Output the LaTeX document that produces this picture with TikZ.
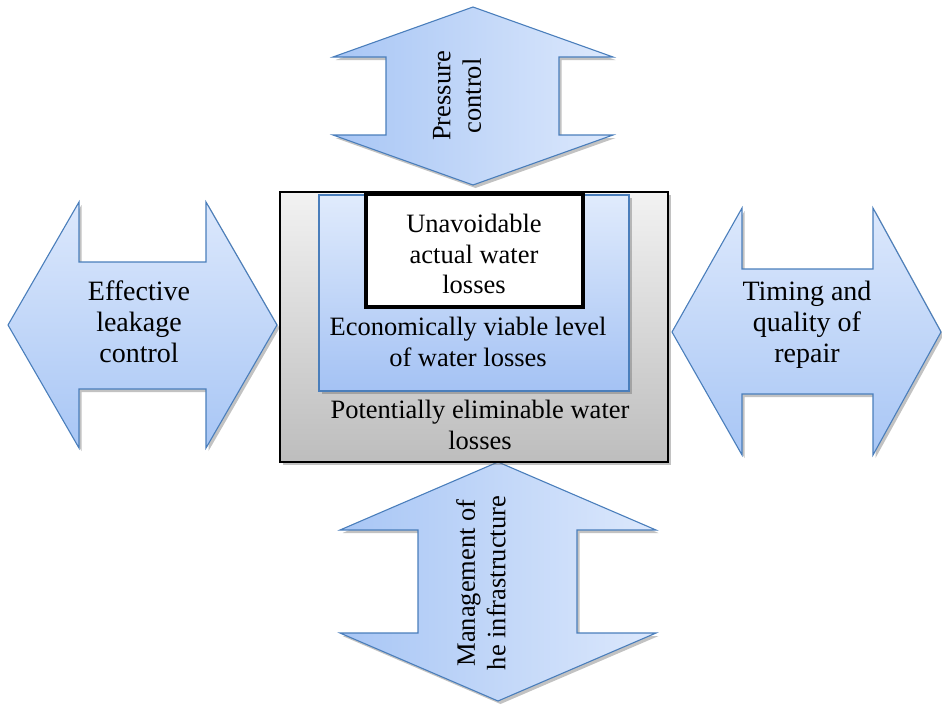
\documentclass[tikz,border=0pt]{standalone}
\usepackage{fontspec}
\setmainfont{Liberation Serif}
\definecolor{arrlight}{HTML}{DCE8FC}
\definecolor{arrdark}{HTML}{A8C6F5}
\definecolor{arrline}{HTML}{4A7EBB}
\definecolor{greylight}{HTML}{F2F2F2}
\definecolor{greydark}{HTML}{BDBDBD}
\definecolor{bluelight}{HTML}{E0EBFC}
\definecolor{bluedark}{HTML}{A4C2F4}
\tikzset{
  shapeshadow/.style={preaction={fill=black!60, opacity=0.4, transform canvas={shift={(2.5pt,-3pt)}}}},
  arrshape/.style={shapeshadow, draw=arrline, line width=1.1pt, line join=miter},
  lbl/.style={font=\fontsize{26.5}{30.5}\selectfont, align=center, inner sep=0pt},
  sidelbl/.style={font=\fontsize{28}{31}\selectfont, align=center, inner sep=0pt},
}
\begin{document}
\begin{tikzpicture}[x=1pt,y=-1pt]
\useasboundingbox (0,0) rectangle (942,707);
% left arrow
\shadedraw[arrshape, top color=arrlight, bottom color=arrdark]
  (8,325) -- (79,202) -- (79,262) -- (206,262) -- (206,202) -- (277,325)
  -- (206,448) -- (206,389) -- (79,389) -- (79,448) -- cycle;
% right arrow
\shadedraw[arrshape, top color=arrlight, bottom color=arrdark]
  (672,332) -- (742,208) -- (742,269) -- (873,269) -- (873,208) -- (941,332)
  -- (873,455) -- (873,394) -- (742,394) -- (742,455) -- cycle;
% top arrow
\shadedraw[arrshape, left color=arrdark, right color=arrlight]
  (473,7) -- (613,57) -- (559,57) -- (559,135) -- (613,135) -- (473,185)
  -- (333,135) -- (386,135) -- (386,57) -- (333,57) -- cycle;
% bottom arrow
\shadedraw[arrshape, left color=arrdark, right color=arrlight]
  (498,462) -- (656,530) -- (577,530) -- (577,633) -- (656,633) -- (498,701)
  -- (340,633) -- (418,633) -- (418,530) -- (340,530) -- cycle;
% central grey box
\shadedraw[shapeshadow, top color=greylight, bottom color=greydark, draw=black, line width=2pt]
  (280,192) rectangle (668,462);
% blue box
\shadedraw[shapeshadow, top color=bluelight, bottom color=bluedark, draw=arrline, line width=1.1pt]
  (319,195) rectangle (629,391);
% white box
\draw[fill=white, draw=black, line width=4pt] (366,194) rectangle (583,307);
% labels
\node[lbl, rotate=90] (ttop) at (457,96) {Pressure\\control};
\node[lbl, rotate=90] (tbot) at (481,583) {Management of\\he infrastructure};
\node[sidelbl] (tleft) at (139,322) {Effective\\leakage\\control};
\node[sidelbl] (tright) at (807,325) {Timing and\\quality of\\repair};
\node[lbl] (tun) at (474,254) {Unavoidable\\actual water\\losses};
\node[lbl] (tecon) at (468,342) {Economically viable level\\of water losses};
\node[lbl] (tpot) at (480,425) {Potentially eliminable water\\losses};
\end{tikzpicture}
\end{document}
